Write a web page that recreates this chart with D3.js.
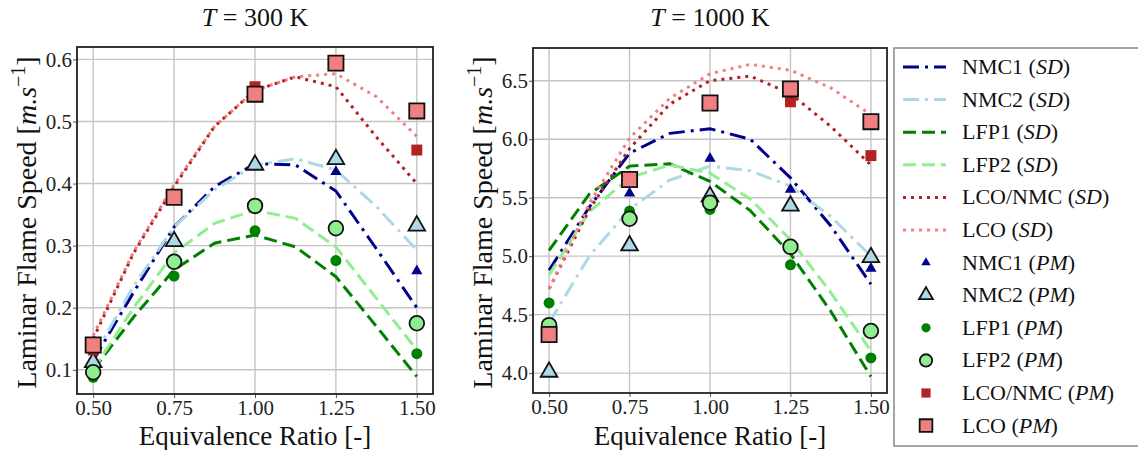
<!DOCTYPE html>
<meta charset="utf-8">
<title>Laminar flame speed vs equivalence ratio</title>
<style>
	body { margin: 0; background: #fff; }
	svg, svg text { font-family: "Liberation Serif", "DejaVu Serif", serif; }
	.grid line { stroke: #c4c4c4; stroke-width: 1.4; }
	.tick text { fill: #222; }
</style>
<body>
<script src="https://d3js.org/d3.v7.min.js"></script>
<script>
	// equivalence ratios
	const phiSD = [0.5, 0.625, 0.75, 0.875, 1.0, 1.125, 1.25, 1.375, 1.5];
	const phiPM = [0.5, 0.75, 1.0, 1.25, 1.5];

	// T = 300 K, SD curves
	const nmc1SD300   = [0.115, 0.225, 0.33, 0.395, 0.432, 0.43, 0.388, 0.295, 0.20];
	const nmc2SD300   = [0.12, 0.235, 0.33, 0.39, 0.43, 0.44, 0.422, 0.363, 0.293];
	const lfp1SD300   = [0.10, 0.185, 0.261, 0.304, 0.317, 0.298, 0.25, 0.17, 0.089];
	const lfp2SD300   = [0.10, 0.20, 0.288, 0.336, 0.357, 0.344, 0.298, 0.215, 0.132];
	const lcoNmcSD300 = [0.15, 0.288, 0.395, 0.492, 0.55, 0.572, 0.556, 0.475, 0.40];
	const lcoSD300    = [0.155, 0.29, 0.398, 0.492, 0.55, 0.572, 0.577, 0.54, 0.476];

	// T = 300 K, PM points
	const nmc1PM300   = [0.105, 0.31, 0.435, 0.419, 0.259];
	const nmc2PM300   = [0.112, 0.307, 0.43, 0.439, 0.332];
	const lfp1PM300   = [0.088, 0.251, 0.324, 0.276, 0.126];
	const lfp2PM300   = [0.096, 0.274, 0.364, 0.328, 0.175];
	const lcoNmcPM300 = [0.132, 0.38, 0.556, 0.59, 0.454];
	const lcoPM300    = [0.140, 0.378, 0.544, 0.594, 0.517];

	// T = 1000 K, SD curves
	const nmc1SD1000   = [4.88, 5.42, 5.88, 6.05, 6.09, 6.0, 5.67, 5.26, 4.76];
	const nmc2SD1000   = [4.43, 5.0, 5.40, 5.65, 5.77, 5.73, 5.60, 5.34, 5.0];
	const lfp1SD1000   = [5.05, 5.53, 5.77, 5.79, 5.64, 5.39, 5.02, 4.53, 3.97];
	const lfp2SD1000   = [4.84, 5.38, 5.67, 5.78, 5.71, 5.49, 5.14, 4.69, 4.19];
	const lcoNmcSD1000 = [4.72, 5.40, 5.92, 6.30, 6.50, 6.54, 6.39, 6.11, 5.78];
	const lcoSD1000    = [4.72, 5.45, 6.01, 6.35, 6.56, 6.64, 6.59, 6.44, 6.21];

	// T = 1000 K, PM points
	const nmc1PM1000   = [4.40, 5.537, 5.835, 5.57, 4.895];
	const nmc2PM1000   = [4.01, 5.09, 5.51, 5.43, 4.99];
	const lfp1PM1000   = [4.60, 5.386, 5.40, 4.926, 4.13];
	const lfp2PM1000   = [4.41, 5.32, 5.457, 5.08, 4.36];
	const lcoNmcPM1000 = [4.35, 5.66, 6.31, 6.32, 5.86];
	const lcoPM1000    = [4.33, 5.656, 6.31, 6.43, 6.15];

	const xTicks = [0.5, 0.75, 1.0, 1.25, 1.5];
	const yTicks300 = [0.1, 0.2, 0.3, 0.4, 0.5, 0.6];
	const yTicks1000 = [4.0, 4.5, 5.0, 5.5, 6.0, 6.5];

	const names = ['NMC1', 'NMC2', 'LFP1', 'LFP2', 'LCO/NMC', 'LCO'];
	const serif = '"Liberation Serif", "DejaVu Serif", serif';

	// line styles for SD
	const lineStyles = [
		{ color: '#00008b', dash: '16,6,3,6' },
		{ color: '#add8e6', dash: '16,6,3,6' },
		{ color: '#008000', dash: '13,6' },
		{ color: '#90ee90', dash: '13,6' },
		{ color: '#b22222', dash: '3,5' },
		{ color: '#f08080', dash: '3,5' }
	];
	// marker styles for PM
	const markerStyles = [
		{ type: d3.symbolTriangle, size: 55, fill: '#00008b', stroke: 'none' },
		{ type: d3.symbolTriangle, size: 120, fill: '#add8e6', stroke: '#111' },
		{ type: d3.symbolCircle, size: 95, fill: '#008000', stroke: 'none' },
		{ type: d3.symbolCircle, size: 170, fill: '#90ee90', stroke: '#111' },
		{ type: d3.symbolSquare, size: 120, fill: '#b22222', stroke: 'none' },
		{ type: d3.symbolSquare, size: 230, fill: '#f08080', stroke: '#111' }
	];

	const svg = d3.select('body').append('svg')
		.attr('width', 1138)
		.attr('height', 450);

	function drawPanel(box, yDomain, yTicks, yFmt, sd, pm, title) {
		const x = d3.scaleLinear().domain([0.45, 1.55]).range([box.x0, box.x1]);
		const y = d3.scaleLinear().domain(yDomain).range([box.y1, box.y0]);
		const g = svg.append('g');

		// grid
		const grid = g.append('g').attr('class', 'grid');
		grid.selectAll('.gx').data(xTicks).enter().append('line')
			.attr('x1', d => x(d)).attr('x2', d => x(d))
			.attr('y1', box.y0).attr('y2', box.y1);
		grid.selectAll('.gy').data(yTicks).enter().append('line')
			.attr('x1', box.x0).attr('x2', box.x1)
			.attr('y1', d => y(d)).attr('y2', d => y(d));

		// axes
		const ax = g.append('g')
			.attr('transform', `translate(0,${box.y1})`)
			.call(d3.axisBottom(x).tickValues(xTicks).tickFormat(d3.format('.2f')).tickSize(4).tickPadding(2));
		const ay = g.append('g')
			.attr('transform', `translate(${box.x0},0)`)
			.call(d3.axisLeft(y).tickValues(yTicks).tickFormat(yFmt).tickSize(4).tickPadding(1));
		[ax, ay].forEach(a => {
			a.attr('font-family', null).attr('font-size', null);
			a.select('.domain').remove();
			a.selectAll('text').style('font-size', '21px').style('font-family', serif);
			a.selectAll('line').attr('stroke', '#555');
		});

		// clip for curves
		const clipId = 'clip' + Math.round(box.x0);
		svg.append('clipPath').attr('id', clipId).append('rect')
			.attr('x', box.x0).attr('y', box.y0)
			.attr('width', box.x1 - box.x0).attr('height', box.y1 - box.y0);

		const line = d3.line().x((d, i) => x(phiSD[i])).y(d => y(d));
		g.append('g').attr('clip-path', `url(#${clipId})`)
			.selectAll('path').data(sd).enter().append('path')
			.attr('d', d => line(d))
			.attr('fill', 'none')
			.attr('stroke', (d, i) => lineStyles[i].color)
			.attr('stroke-width', 3)
			.attr('stroke-dasharray', (d, i) => lineStyles[i].dash);

		// markers
		pm.forEach((vals, k) => {
			const m = markerStyles[k];
			g.append('g').selectAll('path').data(vals).enter().append('path')
				.attr('transform', (d, i) => `translate(${x(phiPM[i])},${y(d)})`)
				.attr('d', d3.symbol().type(m.type).size(m.size))
				.attr('fill', m.fill)
				.attr('stroke', m.stroke)
				.attr('stroke-width', 1.8);
		});

		// frame
		g.append('rect')
			.attr('x', box.x0).attr('y', box.y0)
			.attr('width', box.x1 - box.x0).attr('height', box.y1 - box.y0)
			.attr('fill', 'none').attr('stroke', '#222').attr('stroke-width', 1.8);

		// title
		const t = svg.append('text')
			.attr('x', (box.x0 + box.x1) / 2).attr('y', 26)
			.attr('text-anchor', 'middle').style('font-size', '26px').attr('fill', '#111');
		t.append('tspan').attr('font-style', 'italic').text('T');
		t.append('tspan').text(' = ' + title + ' K');

		// x label
		svg.append('text')
			.attr('x', (box.x0 + box.x1) / 2).attr('y', 445)
			.attr('text-anchor', 'middle').style('font-size', '27px').attr('fill', '#111')
			.text('Equivalence Ratio [-]');

		// y label
		const yl = svg.append('text')
			.attr('transform', `translate(${box.x0 - 41},${(box.y0 + box.y1) / 2 + 2}) rotate(-90)`)
			.attr('text-anchor', 'middle').style('font-size', '28px').attr('fill', '#111');
		yl.append('tspan').text('Laminar Flame Speed [');
		yl.append('tspan').attr('font-style', 'italic').text('m.s');
		yl.append('tspan').attr('dy', -11).style('font-size', '20px').text('\u22121');
		yl.append('tspan').attr('dy', 11).text(']');
	}

	drawPanel({ x0: 77, x1: 433, y0: 47, y1: 394 }, [0.061, 0.62], yTicks300, d3.format('.1f'),
		[nmc1SD300, nmc2SD300, lfp1SD300, lfp2SD300, lcoNmcSD300, lcoSD300],
		[nmc1PM300, nmc2PM300, lfp1PM300, lfp2PM300, lcoNmcPM300, lcoPM300], '300');

	drawPanel({ x0: 533, x1: 887, y0: 48, y1: 393 }, [3.83, 6.78], yTicks1000, d3.format('.1f'),
		[nmc1SD1000, nmc2SD1000, lfp1SD1000, lfp2SD1000, lcoNmcSD1000, lcoSD1000],
		[nmc1PM1000, nmc2PM1000, lfp1PM1000, lfp2PM1000, lcoNmcPM1000, lcoPM1000], '1000');

	// legend
	const leg = svg.append('g');
	leg.append('rect')
		.attr('x', 894).attr('y', 48).attr('width', 270).attr('height', 398)
		.attr('fill', '#fff').attr('stroke', '#888').attr('stroke-width', 1.5);

	const rowY = i => 67 + i * 32.6;
	names.forEach((n, i) => {
		const s = lineStyles[i];
		leg.append('line')
			.attr('x1', 903).attr('x2', 946).attr('y1', rowY(i)).attr('y2', rowY(i))
			.attr('stroke', s.color).attr('stroke-width', 3).attr('stroke-dasharray', s.dash);
		const t = leg.append('text').attr('x', 962).attr('y', rowY(i) + 7)
			.style('font-size', '22px').attr('fill', '#111');
		t.append('tspan').text(n + ' (');
		t.append('tspan').attr('font-style', 'italic').text('SD');
		t.append('tspan').text(')');
	});
	names.forEach((n, k) => {
		const i = k + 6;
		const m = markerStyles[k];
		leg.append('path')
			.attr('transform', `translate(926,${rowY(i)})`)
			.attr('d', d3.symbol().type(m.type).size(m.size * 0.7))
			.attr('fill', m.fill).attr('stroke', m.stroke).attr('stroke-width', 1.8);
		const t = leg.append('text').attr('x', 962).attr('y', rowY(i) + 7)
			.style('font-size', '22px').attr('fill', '#111');
		t.append('tspan').text(n + ' (');
		t.append('tspan').attr('font-style', 'italic').text('PM');
		t.append('tspan').text(')');
	});
</script>
</body>
